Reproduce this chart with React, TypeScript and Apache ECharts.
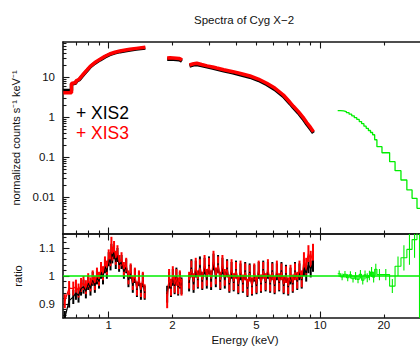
import React, { useEffect, useRef } from "react";
import * as echarts from "echarts";

// ---------- Top panel: normalized counts s^-1 keV^-1 ----------
const specSeg1E = [0.61, 0.667, 0.667, 0.70, 0.70, 0.725, 0.76, 0.79, 0.82, 0.86, 0.91, 0.96, 1.01, 1.07, 1.13, 1.20, 1.26, 1.35, 1.49];
const xis2Seg1 = [4.6, 4.6, 6.7, 7.1, 7.7, 8.5, 11.5, 14.5, 18.2, 22.2, 26.8, 31.8, 36.3, 40.0, 43.0, 45.5, 47.3, 49.8, 53.0];
const xis3Seg1 = [4.05, 4.05, 6.9, 7.3, 7.9, 8.8, 11.9, 15.0, 18.8, 23.0, 27.7, 33.0, 37.6, 41.5, 44.7, 47.3, 49.3, 52.0, 55.3];

const specSeg2E = [1.89, 1.95, 2.02, 2.09, 2.15, 2.19, 2.22];
const xis2Seg2 = [27.8, 28.0, 27.9, 27.5, 27.1, 26.0, 24.8];
const xis3Seg2 = [30.0, 30.2, 30.0, 29.6, 29.2, 28.0, 26.6];

const specSeg3E = [2.41, 2.52, 2.61, 2.75, 2.92, 3.10, 3.24, 3.50, 3.87, 4.20, 4.66, 5.10, 5.59, 6.10, 6.70, 7.21, 7.47, 7.89, 8.30, 8.65, 9.00, 9.29];
const xis2Seg3 = [18.8, 20.2, 20.6, 19.3, 17.9, 16.7, 15.8, 14.3, 12.8, 11.4, 9.9, 8.3, 6.5, 4.9, 3.3, 2.15, 1.72, 1.26, 0.90, 0.66, 0.50, 0.40];
const xis3Seg3 = [20.0, 21.5, 22.0, 20.5, 19.0, 17.8, 16.8, 15.2, 13.6, 12.2, 10.6, 8.9, 7.0, 5.3, 3.55, 2.3, 1.85, 1.36, 0.98, 0.72, 0.55, 0.43];

// PIN (green) bins: low edges, last bin ends at pinLastEdge
const pinEdges = [12.1, 12.5, 12.9, 13.3, 13.7, 14.1, 14.5, 14.9, 15.3, 15.7, 16.1, 16.5, 16.9, 17.3, 17.7, 18.1, 18.55, 19.6, 21.3, 22.6, 24.1, 25.7, 27.2, 28.7];
const pinLastEdge = 30.3;
const pinCounts = [1.44, 1.42, 1.37, 1.28, 1.18, 1.07, 0.96, 0.87, 0.77, 0.68, 0.59, 0.52, 0.46, 0.41, 0.36, 0.27, 0.181, 0.128, 0.0763, 0.0455, 0.0266, 0.015, 0.00928, 0.00522];

// ---------- Bottom panel: ratio ----------
const ratSeg1E = [0.62, 0.65, 0.68, 0.70, 0.72, 0.74, 0.76, 0.78, 0.80, 0.82, 0.84, 0.86, 0.88, 0.90, 0.92, 0.94, 0.96, 0.98, 1.00, 1.02, 1.03, 1.04, 1.06, 1.08, 1.10, 1.12, 1.15, 1.18, 1.21, 1.24, 1.27, 1.30, 1.33, 1.36, 1.39, 1.42, 1.45, 1.48];
const xis3RatSeg1 = [0.910, 0.957, 0.955, 0.962, 0.948, 0.968, 0.975, 0.960, 0.985, 0.970, 0.995, 0.975, 1.005, 0.990, 1.025, 1.010, 1.045, 1.030, 1.070, 1.060, 1.115, 1.080, 1.100, 1.065, 1.085, 1.050, 1.060, 1.025, 1.040, 0.995, 1.020, 0.975, 1.005, 0.955, 0.995, 0.950, 0.990, 0.945];
const xis2RatSeg1 = [0.850, 0.912, 0.925, 0.940, 0.930, 0.955, 0.962, 0.945, 0.975, 0.955, 0.990, 0.965, 0.995, 0.980, 1.015, 0.995, 1.035, 1.015, 1.060, 1.045, 1.090, 1.070, 1.085, 1.050, 1.075, 1.040, 1.050, 1.015, 1.035, 0.985, 1.015, 0.965, 1.000, 0.950, 0.990, 0.940, 0.985, 0.940];
const ratErrSeg1 = 0.025;

const ratSeg2E = [1.89, 1.93, 1.97, 2.01, 2.05, 2.09, 2.13, 2.17, 2.21];
const xis3RatSeg2 = [0.915, 0.995, 0.960, 1.005, 0.970, 0.995, 0.965, 0.990, 0.960];
const xis2RatSeg2 = [0.935, 0.985, 0.955, 0.995, 0.965, 1.000, 0.960, 0.985, 0.965];
const ratErrSeg2 = 0.03;

const ratSeg3E = [2.40, 2.46, 2.52, 2.58, 2.64, 2.70, 2.77, 2.84, 2.91, 2.98, 3.05, 3.13, 3.21, 3.29, 3.37, 3.45, 3.54, 3.63, 3.72, 3.81, 3.90, 4.00, 4.10, 4.20, 4.31, 4.42, 4.53, 4.64, 4.76, 4.88, 5.00, 5.12, 5.25, 5.38, 5.52, 5.66, 5.80, 5.94, 6.09, 6.24, 6.40, 6.56, 6.72, 6.89, 7.06, 7.24, 7.42, 7.60, 7.79, 7.98, 8.18, 8.38, 8.59, 8.80, 9.02, 9.25];
const xis3RatSeg3 = [0.985, 1.025, 0.980, 1.035, 0.990, 1.030, 0.985, 1.045, 0.995, 1.035, 0.990, 1.060, 1.000, 1.040, 0.985, 1.045, 0.995, 1.025, 0.975, 1.030, 0.980, 1.020, 0.970, 1.025, 0.975, 1.015, 0.960, 1.010, 0.965, 1.015, 0.970, 1.025, 0.975, 1.020, 0.980, 1.030, 0.975, 1.015, 0.970, 1.025, 0.980, 1.015, 0.970, 1.005, 0.965, 1.010, 0.975, 1.015, 0.985, 1.025, 0.990, 1.055, 1.035, 1.080, 1.060, 1.085];
const xis2RatSeg3 = [0.975, 1.030, 0.970, 1.025, 0.985, 1.040, 0.980, 1.035, 0.985, 1.040, 0.980, 1.050, 0.990, 1.045, 0.980, 1.035, 0.985, 1.030, 0.970, 1.020, 0.975, 1.025, 0.965, 1.015, 0.970, 1.020, 0.955, 1.015, 0.960, 1.010, 0.965, 1.020, 0.970, 1.025, 0.975, 1.020, 0.970, 1.020, 0.965, 1.015, 0.975, 1.020, 0.965, 1.010, 0.960, 1.000, 0.970, 1.020, 0.980, 1.015, 0.985, 1.030, 1.010, 1.040, 1.025, 1.045];
const ratErrSeg3 = 0.03;

const pinRatio = [1.008, 0.997, 1.006, 0.994, 1.004, 0.990, 1.000, 0.988, 1.006, 0.985, 1.004, 0.994, 1.002, 1.014, 0.996, 1.024, 1.005, 1.005, 0.964, 1.035, 1.065, 1.095, 1.13, 1.30];
const pinRatioErr = [0.012, 0.012, 0.012, 0.013, 0.013, 0.013, 0.014, 0.014, 0.015, 0.015, 0.016, 0.016, 0.017, 0.018, 0.019, 0.02, 0.02, 0.02, 0.025, 0.035, 0.045, 0.055, 0.065, 0.5];
const modelRatio = 1;

// ---------- Axes ----------
const xRange = [0.608, 32];
const yTopRange = [0.00119, 75];
const yBotRange = [0.85, 1.15];
const xTickLabels = [1, 2, 5, 10, 20];
const xMajorTicks = [1, 10];
const xMinorTicks = [0.7, 0.8, 0.9, 2, 3, 4, 5, 6, 7, 8, 9, 20, 30];
const yTopLabels = [0.01, 0.1, 1, 10];
const yTopMinor = [0.002, 0.003, 0.004, 0.005, 0.006, 0.007, 0.008, 0.009, 0.02, 0.03, 0.04, 0.05, 0.06, 0.07, 0.08, 0.09, 0.2, 0.3, 0.4, 0.5, 0.6, 0.7, 0.8, 0.9, 2, 3, 4, 5, 6, 7, 8, 9, 20, 30, 40, 50, 60, 70];
const yBotLabels = [0.9, 1, 1.1];
const yBotMinor = [0.86, 0.88, 0.92, 0.94, 0.96, 0.98, 1.02, 1.04, 1.06, 1.08, 1.12, 1.14];
const legendNames = ["XIS2", "XIS3"];

const FONT = '"Liberation Sans", Arial, Helvetica, sans-serif';
const AX = "#151515";
const BLACK = "#000000";
const RED = "#ff0000";
const GREEN = "#00ee00";
const lg = Math.log10;

const X_MIN = lg(xRange[0]);
const X_MAX = lg(xRange[1]);

const fmtLog = (v: number) => String(parseFloat(Math.pow(10, v).toPrecision(3)));
const fmtLin = (v: number) => String(parseFloat(v.toFixed(3)));

function xAx(grid: number, pos: string, ticks: number[], len: number, opts: any = {}) {
  return {
    type: "value",
    gridIndex: grid,
    position: pos,
    min: X_MIN,
    max: X_MAX,
    axisLine: { show: !!opts.line, onZero: false, lineStyle: { color: AX, width: 1.6 } },
    axisTick: { show: true, inside: true, length: len, customValues: ticks.map(lg), lineStyle: { color: AX, width: 1.1 } },
    axisLabel: opts.labels
      ? { show: true, customValues: opts.labels.map(lg), formatter: fmtLog, margin: 1, fontSize: 11.5, color: "#111", fontFamily: FONT }
      : { show: false },
    splitLine: { show: false },
    name: opts.name || "",
    nameLocation: "middle",
    nameGap: 16,
    nameTextStyle: { fontSize: 11.5, color: "#111", fontFamily: FONT },
  };
}

function yAx(grid: number, min: number, max: number, ticks: number[], len: number, opts: any = {}) {
  return {
    type: "value",
    gridIndex: grid,
    position: "left",
    min,
    max,
    axisLine: { show: !!opts.line, onZero: false, lineStyle: { color: AX, width: 1.6 } },
    axisTick: { show: true, inside: true, length: len, customValues: ticks, lineStyle: { color: AX, width: 1.1 } },
    axisLabel: opts.labels
      ? { show: true, customValues: opts.labels, formatter: opts.fmt, margin: 8, fontSize: 11.5, color: "#111", fontFamily: FONT }
      : { show: false },
    splitLine: { show: false },
    name: opts.name || "",
    nameLocation: "middle",
    nameGap: 40,
    nameRotate: 90,
    nameTextStyle: { fontSize: 11, color: "#111", fontFamily: FONT },
  };
}

function specSeries(E: number[], V: number[], color: string, width: number) {
  return {
    type: "line",
    xAxisIndex: 0,
    yAxisIndex: 0,
    data: E.map((e, i) => [lg(e), lg(V[i])]),
    showSymbol: false,
    symbol: "none",
    lineStyle: { color, width },
    silent: true,
  };
}

function ratioLine(E: number[], R: number[], color: string) {
  return {
    type: "line",
    xAxisIndex: 4,
    yAxisIndex: 2,
    data: E.map((e, i) => [lg(e), R[i]]),
    showSymbol: false,
    symbol: "none",
    lineStyle: { color, width: 1.2 },
    silent: true,
  };
}

function errSeries(items: number[][], color: string, width: number) {
  return {
    type: "custom",
    coordinateSystem: "cartesian2d",
    xAxisIndex: 4,
    yAxisIndex: 2,
    silent: true,
    encode: { x: 0, y: 1 },
    data: items,
    renderItem: (params: any, api: any) => {
      const x = api.value(0);
      const r = api.value(1);
      const er = api.value(2);
      const p1 = api.coord([x, r - er]);
      const p2 = api.coord([x, r + er]);
      const cs = params.coordSys;
      const top = cs.y;
      const bot = cs.y + cs.height;
      const y1 = Math.min(Math.max(p1[1], top), bot);
      const y2 = Math.min(Math.max(p2[1], top), bot);
      return {
        type: "line",
        shape: { x1: p1[0], y1, x2: p1[0], y2 },
        style: { stroke: color, lineWidth: width },
      };
    },
  };
}

const errItems = (E: number[], R: number[], err: number) => E.map((e, i) => [lg(e), R[i], err]);

export default function App() {
  const ref = useRef<HTMLDivElement>(null);
  useEffect(() => {
    document.body.style.margin = "0";
    if (!ref.current) return;
    const chart = echarts.init(ref.current, null, { renderer: "svg" });

    const pinTop = pinEdges.map((e, i) => [lg(e), lg(pinCounts[i])]);
    pinTop.push([lg(pinLastEdge), lg(pinCounts[pinCounts.length - 1])]);
    const pinRat = pinEdges.map((e, i) => [lg(e), pinRatio[i]]);
    pinRat.push([lg(pinLastEdge), pinRatio[pinRatio.length - 1]]);
    const pinErr = pinEdges.map((e, i) => {
      const hi = i + 1 < pinEdges.length ? pinEdges[i + 1] : pinLastEdge;
      return [(lg(e) + lg(hi)) / 2, pinRatio[i], pinRatioErr[i]];
    });

    const option: any = {
      animation: false,
      backgroundColor: "#ffffff",
      grid: [
        { left: 63, top: 42, width: 364, height: 192, outerBoundsMode: "none" },
        { left: 63, top: 234, width: 364, height: 84, outerBoundsMode: "none" },
      ],
      xAxis: [
        xAx(0, "bottom", xMinorTicks, 3.5, { line: true }),
        xAx(0, "bottom", xMajorTicks, 6.5),
        xAx(0, "top", xMinorTicks, 3.5, { line: true }),
        xAx(0, "top", xMajorTicks, 6.5),
        xAx(1, "bottom", xMinorTicks, 3.5, { line: true, labels: xTickLabels, name: "Energy (keV)" }),
        xAx(1, "bottom", xMajorTicks, 6.5),
        xAx(1, "top", xMinorTicks, 3.5, { line: true }),
        xAx(1, "top", xMajorTicks, 6.5),
      ],
      yAxis: [
        yAx(0, lg(yTopRange[0]), lg(yTopRange[1]), yTopMinor.map(lg), 3.5, { line: true }),
        yAx(0, lg(yTopRange[0]), lg(yTopRange[1]), yTopLabels.map(lg), 6.5, {
          labels: yTopLabels.map(lg),
          fmt: fmtLog,
          name: "normalized counts s\u207B\u00B9 keV\u207B\u00B9",
        }),
        yAx(1, yBotRange[0], yBotRange[1], yBotMinor, 3.5, { line: true }),
        yAx(1, yBotRange[0], yBotRange[1], yBotLabels, 6.5, { labels: yBotLabels, fmt: fmtLin, name: "ratio" }),
      ],
      graphic: [
        {
          type: "text",
          x: 244,
          y: 20,
          style: { text: "Spectra of Cyg X\u22122", font: `11.5px ${FONT}`, fill: "#111", textAlign: "center", textVerticalAlign: "middle" },
        },
        {
          type: "text",
          x: 76,
          y: 112.5,
          z: 20,
          style: { text: `+ ${legendNames[0]}`, font: `17.5px ${FONT}`, fill: BLACK, textAlign: "left", textVerticalAlign: "middle" },
        },
        {
          type: "text",
          x: 76,
          y: 132.5,
          z: 20,
          style: { text: `+ ${legendNames[1]}`, font: `17.5px ${FONT}`, fill: RED, textAlign: "left", textVerticalAlign: "middle" },
        },
      ],
      series: [
        specSeries(specSeg1E, xis2Seg1, BLACK, 3.5),
        specSeries(specSeg2E, xis2Seg2, BLACK, 3.5),
        specSeries(specSeg3E, xis2Seg3, BLACK, 3.5),
        specSeries(specSeg1E, xis3Seg1, RED, 3.5),
        specSeries(specSeg2E, xis3Seg2, RED, 3.5),
        specSeries(specSeg3E, xis3Seg3, RED, 3.5),
        {
          type: "line",
          xAxisIndex: 0,
          yAxisIndex: 0,
          data: pinTop,
          step: "end",
          showSymbol: false,
          symbol: "none",
          lineStyle: { color: GREEN, width: 1.3 },
          silent: true,
        },
        // ratio: XIS2 (black)
        errSeries(errItems(ratSeg1E, xis2RatSeg1, ratErrSeg1), BLACK, 2),
        errSeries(errItems(ratSeg2E, xis2RatSeg2, ratErrSeg2), BLACK, 2),
        errSeries(errItems(ratSeg3E, xis2RatSeg3, ratErrSeg3), BLACK, 2),
        ratioLine(ratSeg1E, xis2RatSeg1, BLACK),
        ratioLine(ratSeg2E, xis2RatSeg2, BLACK),
        ratioLine(ratSeg3E, xis2RatSeg3, BLACK),
        // ratio: XIS3 (red)
        errSeries(errItems(ratSeg1E, xis3RatSeg1, ratErrSeg1), RED, 2),
        errSeries(errItems(ratSeg2E, xis3RatSeg2, ratErrSeg2), RED, 2),
        errSeries(errItems(ratSeg3E, xis3RatSeg3, ratErrSeg3), RED, 2),
        ratioLine(ratSeg1E, xis3RatSeg1, RED),
        ratioLine(ratSeg2E, xis3RatSeg2, RED),
        ratioLine(ratSeg3E, xis3RatSeg3, RED),
        // ratio: PIN (green)
        errSeries(pinErr, GREEN, 1.1),
        {
          type: "line",
          xAxisIndex: 4,
          yAxisIndex: 2,
          data: pinRat,
          step: "end",
          showSymbol: false,
          symbol: "none",
          lineStyle: { color: GREEN, width: 1.1 },
          silent: true,
        },
        // model ratio = 1
        {
          type: "line",
          xAxisIndex: 4,
          yAxisIndex: 2,
          data: [
            [X_MIN, modelRatio],
            [X_MAX, modelRatio],
          ],
          showSymbol: false,
          symbol: "none",
          z: 5,
          lineStyle: { color: GREEN, width: 1.5 },
          silent: true,
        },
      ],
    };
    chart.setOption(option);
    return () => chart.dispose();
  }, []);

  return (
    <div style={{ width: 420, height: 347, overflow: "hidden", background: "#fff" }}>
      <div ref={ref} style={{ width: 430, height: 347 }} />
    </div>
  );
}
